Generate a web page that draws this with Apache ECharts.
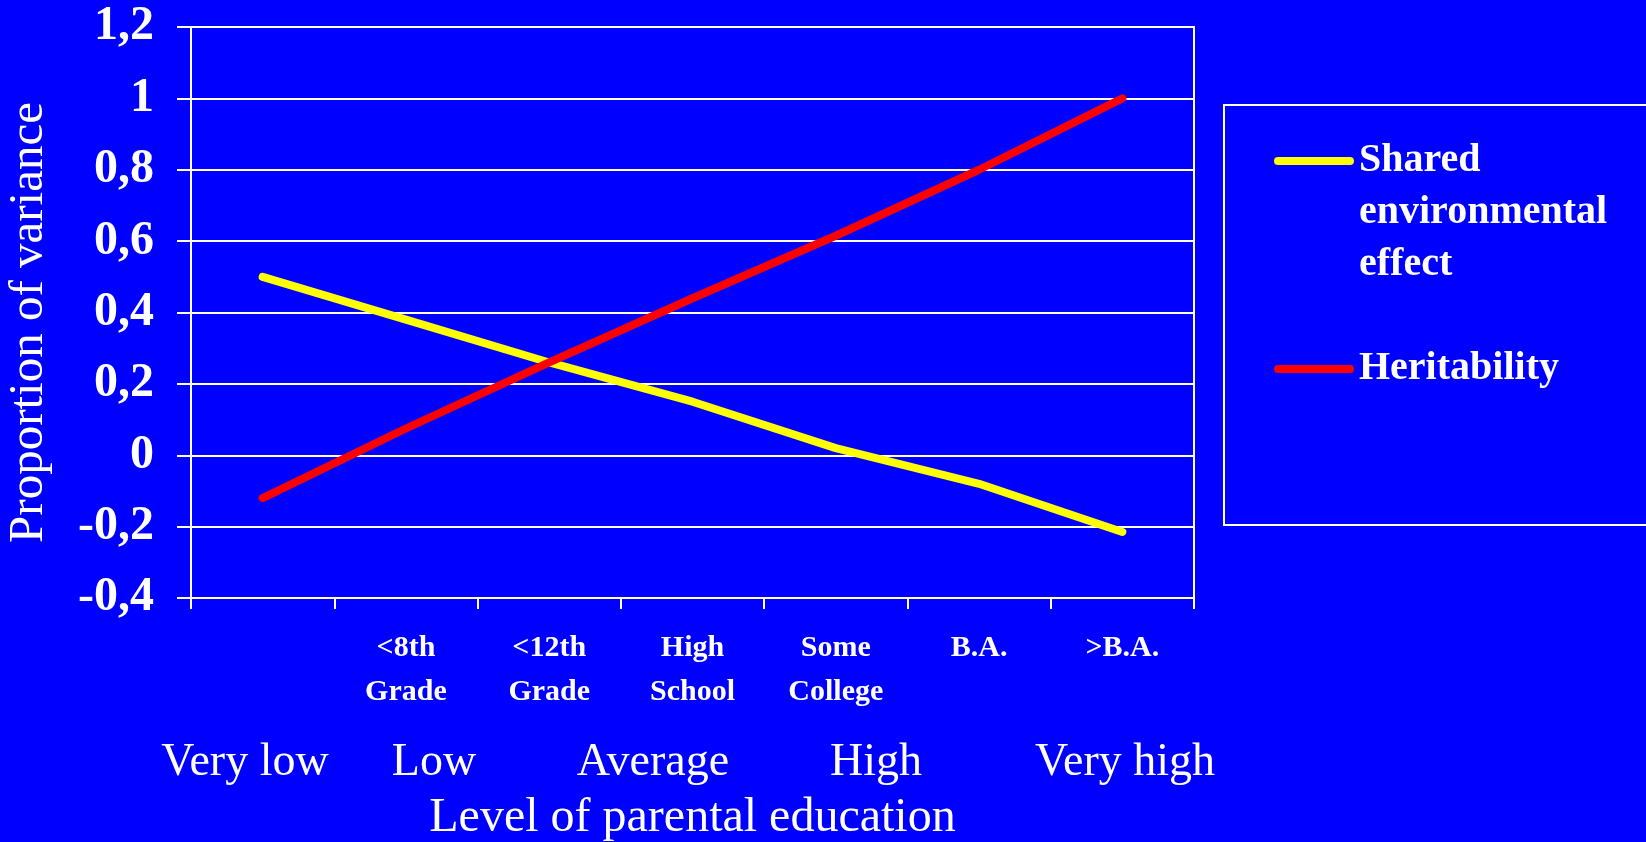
<!DOCTYPE html>
<html>
<head>
<meta charset="utf-8">
<title>Proportion of variance by level of parental education</title>
<script src="https://cdn.jsdelivr.net/npm/echarts@6/dist/echarts.min.js"></script>
<style>
  html, body { margin: 0; padding: 0; background: #0000FF; }
  #chart { width: 1646px; height: 842px; }
</style>
</head>
<body>
<div id="chart"></div>
<script>
// Education categories along the x axis (first slot has no label)
const categories = ['', '<8th\nGrade', '<12th\nGrade', 'High\nSchool', 'Some\nCollege', 'B.A.', '>B.A.'];

// Series values per category
const sharedEnvironment = [0.50, 0.38, 0.26, 0.15, 0.02, -0.08, -0.215];
const heritability = [-0.12, 0.075, 0.26, 0.44, 0.615, 0.80, 1.00];

// Series names shown in the legend
const sharedName = 'Shared\nenvironmental\neffect';
const heritName = 'Heritability';

// Coarse education scale written under the category labels
const levelLabels = ['Very low', 'Low', 'Average', 'High', 'Very high'];

// Y axis range
const yMin = -0.4, yMax = 1.2, yStep = 0.2;

// Layout of the coarse scale row (x centres in px, row centre in px)
const levelLabelX = [245, 434, 653, 876, 1125];
const levelRowY = 763;

const SERIF = '"Liberation Serif", "Times New Roman", Times, serif';
const WHITE = '#FFFFFF';

const chart = echarts.init(document.getElementById('chart'), null, { renderer: 'canvas' });

const levelTexts = levelLabels.map((t, i) => ({
  type: 'text',
  x: levelLabelX[i],
  y: levelRowY,
  silent: true,
  style: {
    text: t,
    fill: WHITE,
    font: '46px ' + SERIF,
    align: 'center', verticalAlign: 'middle',
    textAlign: 'center', textVerticalAlign: 'middle'
  }
}));

chart.setOption({
  backgroundColor: '#0000FF',
  animation: false,
  grid: {
    left: 191, right: 452, top: 27, bottom: 244,
    outerBoundsMode: 'none',
    containLabel: false,
    show: true,
    borderColor: WHITE,
    borderWidth: 2,
    backgroundColor: 'transparent'
  },
  legend: {
    orient: 'vertical',
    left: 1274,
    top: 31,
    padding: 0,
    itemGap: 52,
    itemWidth: 72,
    itemHeight: 8,
    selectedMode: false,
    lineStyle: { width: 8, cap: 'round' },
    // the multi-line name is pushed down so its first line sits level with the icon
    formatter: name => (name === sharedName ? '\n\n' + name : name),
    textStyle: {
      color: WHITE, fontFamily: SERIF, fontWeight: 'bold',
      fontSize: 40, lineHeight: 52, padding: [0, 0, 0, 4]
    },
    data: [
      { name: sharedName },
      { name: heritName }
    ]
  },
  xAxis: {
    type: 'category',
    data: categories,
    boundaryGap: true,
    name: 'Level of parental education',
    nameLocation: 'middle',
    nameGap: 196,
    nameTextStyle: { color: WHITE, fontFamily: SERIF, fontSize: 48 },
    axisLine: { show: true, onZero: false, lineStyle: { color: WHITE, width: 2 } },
    axisTick: { show: true, length: 11, lineStyle: { color: WHITE, width: 2 } },
    axisLabel: {
      interval: 0,
      margin: 28,
      color: WHITE,
      fontFamily: SERIF,
      fontWeight: 'bold',
      fontSize: 30,
      lineHeight: 44
    },
    splitLine: { show: false }
  },
  yAxis: {
    type: 'value',
    min: yMin, max: yMax, interval: yStep,
    name: 'Proportion of variance',
    nameLocation: 'middle',
    nameGap: 137,
    nameTextStyle: { color: WHITE, fontFamily: SERIF, fontSize: 49, padding: [0, 20, 0, 0] },
    axisLine: { show: true, lineStyle: { color: WHITE, width: 2 } },
    axisTick: { show: true, length: 14, lineStyle: { color: WHITE, width: 2 } },
    axisLabel: {
      margin: 37,
      color: WHITE,
      fontFamily: SERIF,
      fontWeight: 'bold',
      fontSize: 48,
      formatter: v => String(Math.round(v * 10) / 10).replace('.', ',')
    },
    splitLine: { show: true, lineStyle: { color: WHITE, width: 2 } }
  },
  series: [
    {
      name: sharedName,
      type: 'line',
      data: sharedEnvironment,
      symbol: 'none',
      color: '#FFFF00',
      lineStyle: { color: '#FFFF00', width: 8, cap: 'round', join: 'round' },
      z: 3
    },
    {
      name: heritName,
      type: 'line',
      data: heritability,
      symbol: 'none',
      color: '#FF0000',
      lineStyle: { color: '#FF0000', width: 8, cap: 'round', join: 'round' },
      z: 4
    }
  ],
  graphic: [
    {
      type: 'rect',
      silent: true,
      shape: { x: 1224, y: 105, width: 440, height: 420 },
      style: { fill: 'none', stroke: WHITE, lineWidth: 2 }
    }
  ].concat(levelTexts)
});
</script>
</body>
</html>
